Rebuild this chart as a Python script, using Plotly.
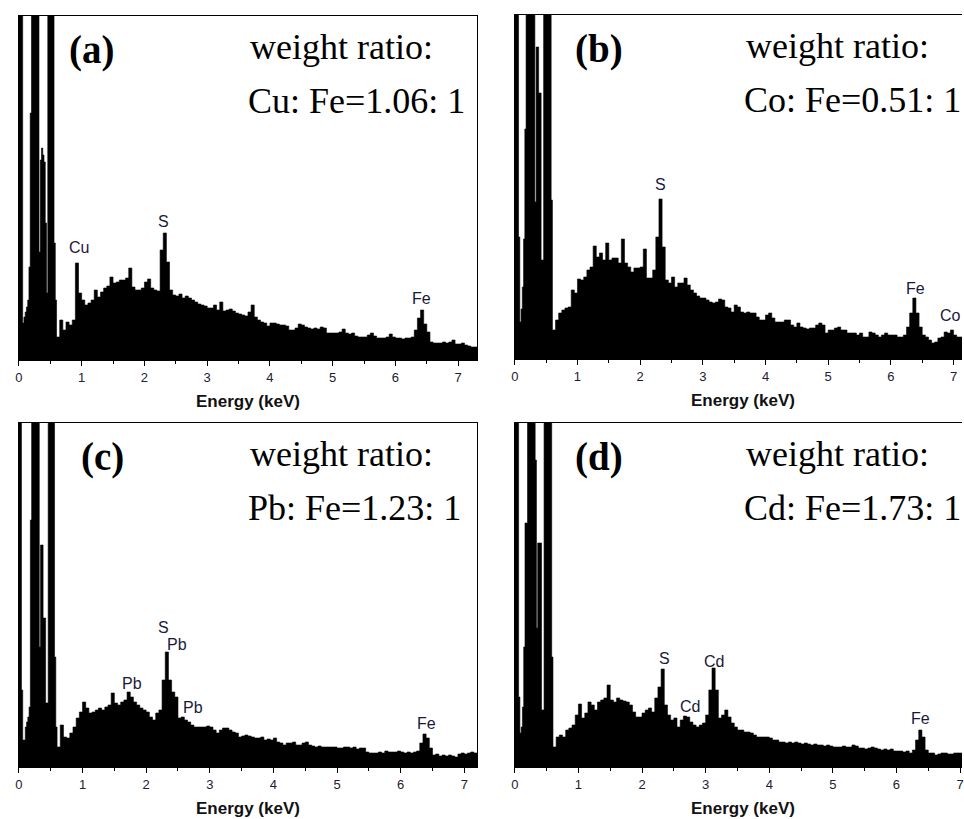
import numpy as np
import plotly.graph_objects as go

# ---------------- data (counts, arbitrary units) ----------------
LOW_START, LOW_STEP = 0.0, 0.02     # fine channels 0.00-0.60 keV
HIGH_START, HIGH_STEP = 0.60, 0.05  # channels from 0.60 keV on

A_LOW = [500, 500, 500, 37, 43, 48, 53, 60, 93, 247,
         500, 500, 500, 500, 500, 500, 108, 200, 212, 205,
         198, 137, 67, 500, 500, 500, 500, 500, 117, 60]
A_HIGH = [23, 40, 30, 38, 35, 40, 97, 67, 60, 55,
          57, 60, 70, 63, 68, 72, 74, 83, 77, 78,
          80, 80, 82, 92, 73, 70, 70, 72, 78, 81,
          72, 70, 69, 110, 127, 98, 70, 65, 64, 66,
          62, 64, 62, 60, 58, 56, 55, 54, 52, 52,
          55, 50, 58, 49, 50, 51, 49, 47, 46, 45,
          44, 48, 55, 43, 40, 38, 37, 34, 37, 37,
          36, 35, 35, 34, 30, 30, 32, 36, 35, 33,
          32, 31, 32, 31, 33, 32, 27, 27, 27, 27,
          28, 31, 27, 26, 27, 24, 23, 23, 23, 25,
          27, 24, 22, 22, 22, 23, 26, 23, 22, 22,
          21, 22, 22, 23, 30, 42, 50, 36, 28, 18,
          17, 17, 17, 18, 17, 18, 20, 16, 16, 17,
          15, 14, 13, 13]

B_LOW = [500, 500, 500, 122, 37, 50, 72, 120, 230, 500,
         500, 500, 500, 500, 500, 500, 157, 312, 312, 266,
         266, 99, 99, 500, 500, 500, 500, 500, 500, 159]
B_HIGH = [29, 39, 46, 49, 51, 52, 69, 66, 80, 79,
          82, 89, 92, 113, 102, 106, 99, 116, 99, 101,
          101, 96, 120, 96, 92, 87, 91, 91, 92, 110,
          81, 81, 89, 122, 160, 112, 79, 76, 82, 72,
          76, 76, 81, 74, 69, 66, 63, 61, 61, 59,
          57, 56, 57, 60, 59, 52, 51, 47, 54, 52,
          47, 46, 47, 46, 46, 42, 39, 39, 44, 46,
          41, 37, 37, 37, 39, 39, 34, 32, 36, 32,
          31, 30, 31, 31, 34, 36, 34, 26, 29, 29,
          31, 32, 29, 29, 26, 26, 26, 24, 26, 22,
          22, 27, 26, 24, 22, 24, 26, 24, 24, 24,
          22, 22, 24, 32, 46, 61, 46, 32, 24, 22,
          19, 16, 17, 21, 22, 27, 26, 29, 24, 22,
          22]

C_LOW = [500, 500, 77, 27, 27, 40, 45, 50, 60, 247,
         500, 500, 500, 500, 500, 500, 120, 222, 222, 149,
         149, 64, 64, 500, 500, 500, 500, 500, 110, 40]
C_HIGH = [20, 42, 30, 29, 34, 40, 49, 55, 65, 59,
          54, 55, 57, 59, 57, 60, 62, 74, 64, 62,
          65, 67, 75, 70, 65, 62, 59, 57, 55, 50,
          47, 54, 57, 87, 115, 87, 75, 70, 49, 50,
          47, 45, 42, 40, 40, 40, 40, 41, 40, 37,
          34, 37, 39, 39, 37, 35, 34, 30, 31, 32,
          31, 30, 29, 29, 30, 27, 28, 27, 29, 25,
          24, 22, 24, 24, 25, 22, 22, 24, 25, 22,
          21, 20, 21, 20, 20, 20, 20, 20, 19, 19,
          20, 20, 19, 20, 18, 19, 19, 15, 14, 14,
          14, 15, 14, 16, 15, 15, 15, 16, 15, 14,
          15, 14, 15, 16, 24, 33, 29, 19, 12, 13,
          11, 12, 11, 12, 11, 10, 13, 14, 13, 14,
          15, 14]

D_LOW = [500, 500, 500, 70, 34, 40, 60, 120, 244, 244,
         500, 500, 500, 500, 500, 500, 307, 139, 224, 224,
         224, 57, 57, 500, 500, 500, 500, 500, 500, 110]
D_HIGH = [20, 30, 32, 30, 37, 39, 42, 52, 63, 49,
          54, 65, 62, 57, 65, 67, 69, 82, 67, 65,
          69, 67, 66, 65, 62, 55, 50, 50, 54, 57,
          59, 55, 69, 80, 98, 62, 52, 47, 49, 40,
          47, 51, 50, 45, 42, 40, 42, 44, 52, 77,
          99, 77, 49, 52, 57, 50, 44, 40, 37, 37,
          35, 35, 34, 32, 30, 30, 30, 30, 29, 27,
          27, 25, 25, 24, 25, 24, 25, 24, 23, 24,
          23, 22, 23, 22, 22, 21, 22, 21, 20, 20,
          20, 21, 20, 20, 22, 21, 19, 19, 18, 19,
          20, 19, 18, 17, 18, 17, 18, 16, 16, 16,
          15, 16, 14, 17, 27, 37, 30, 17, 14, 14,
          12, 13, 14, 14, 13, 13, 14, 14, 14]

TICKS = [0, 1, 2, 3, 4, 5, 6, 7]
PANEL_TAGS = ["(a)", "(b)", "(c)", "(d)"]
RATIO_TEXT = ["Cu: Fe=1.06: 1", "Co: Fe=0.51: 1", "Pb: Fe=1.23: 1", "Cd: Fe=1.73: 1"]
PEAK_LABELS = [
    [("Cu", 75, 247), ("S", 161, 222), ("Fe", 420, 298)],
    [("S", 661, 185), ("Fe", 917, 288), ("Co", 952, 315)],
    [("S", 161, 627), ("Pb", 174, 644), ("Pb", 129, 683), ("Pb", 190, 707), ("Fe", 425, 723)],
    [("S", 665, 658), ("Cd", 714, 661), ("Cd", 690, 706), ("Fe", 922, 718)],
]

W, H = 964, 819
# panel boxes in pixels: left, right, top, bottom, x-range max
PANELS = [
    (15, 476, 16, 360, 7.30),
    (514, 964, 15, 359, 7.135),
    (15, 476, 423, 767, 7.20),
    (514, 964, 423, 767, 7.03),
]
YMAX = 344
SERIES = [(A_LOW, A_HIGH), (B_LOW, B_HIGH), (C_LOW, C_HIGH), (D_LOW, D_HIGH)]

SANS = "Arial, Liberation Sans, sans-serif"
SERIF = "Times New Roman, Liberation Serif, serif"


def px(x):
    return x / W


def py(y):
    return 1 - y / H


fig = go.Figure()
annotations = []

for i, ((low, high), (l, r, t, b, xmax)) in enumerate(zip(SERIES, PANELS)):
    n = i + 1
    xa = "x" if n == 1 else f"x{n}"
    ya = "y" if n == 1 else f"y{n}"
    low_edges = LOW_START + np.arange(len(low)) * LOW_STEP
    high_edges = HIGH_START + np.arange(len(high)) * HIGH_STEP
    xs = np.concatenate([low_edges, high_edges, [high_edges[-1] + HIGH_STEP]])
    ys = np.concatenate([low, high, [high[-1]]])
    fig.add_trace(go.Scatter(
        x=xs, y=ys, xaxis=xa, yaxis=ya, mode="lines",
        line=dict(shape="hv", color="black", width=0.6),
        fill="tozeroy", fillcolor="black", hoverinfo="skip", showlegend=False))

    full_box = (r < W)
    xkey = "xaxis" if n == 1 else f"xaxis{n}"
    ykey = "yaxis" if n == 1 else f"yaxis{n}"
    fig.update_layout(**{
        xkey: dict(domain=[px(l), px(r)], anchor=ya, range=[0, xmax],
                   tickvals=TICKS, ticks="outside", ticklen=5, tickwidth=1,
                   tickcolor="black", showline=True, linecolor="black", linewidth=1,
                   mirror=True, showgrid=False, zeroline=False,
                   ticklabeloverflow="allow",
                   tickfont=dict(family=SANS, size=13, color="#1f2030"),
                   minor=dict(dtick=0.5, ticks="outside", ticklen=3,
                              tickcolor="black", showgrid=False),
                   fixedrange=True),
        ykey: dict(domain=[py(b), py(t)], anchor=xa, range=[0, YMAX],
                   showticklabels=False, ticks="", showline=True, linecolor="black",
                   linewidth=1, mirror=full_box, showgrid=False, zeroline=False,
                   fixedrange=True),
    })

    # axis title
    cx = (l + r) / 2 if full_box else 744
    annotations.append(dict(text="<b>Energy (keV)</b>", x=px(cx), y=py(b + 41),
                            xref="paper", yref="paper", showarrow=False,
                            xanchor="center", yanchor="middle",
                            font=dict(family=SANS, size=17, color="#111")))
    # panel tag and ratio text
    base_x = 63 if l < 100 else 573
    if i == 2:
        base_x = 75
    txt_x = 244 if l < 100 else 743
    annotations.append(dict(text=f"<b>{PANEL_TAGS[i]}</b>", x=px(base_x), y=py(t + 34),
                            xref="paper", yref="paper", showarrow=False,
                            xanchor="left", yanchor="middle",
                            font=dict(family=SERIF, size=39, color="black")))
    annotations.append(dict(text="weight ratio:", x=px(txt_x + 2), y=py(t + 31),
                            xref="paper", yref="paper", showarrow=False,
                            xanchor="left", yanchor="middle",
                            font=dict(family=SERIF, size=36, color="black")))
    annotations.append(dict(text=RATIO_TEXT[i], x=px(txt_x), y=py(t + 85),
                            xref="paper", yref="paper", showarrow=False,
                            xanchor="left", yanchor="middle",
                            font=dict(family=SERIF, size=36, color="black")))
    for lab, lx, ly in PEAK_LABELS[i]:
        annotations.append(dict(text=lab, x=px(lx), y=py(ly),
                                xref="paper", yref="paper", showarrow=False,
                                xanchor="center", yanchor="middle",
                                font=dict(family=SANS, size=16, color="#1a1a38")))

fig.update_layout(width=W, height=H, margin=dict(l=0, r=0, t=0, b=0),
                  paper_bgcolor="white", plot_bgcolor="white",
                  showlegend=False, annotations=annotations)

fig.write_html("out.html",
               config={"displayModeBar": False},
               post_script="document.body.style.margin='0px';"
                           "document.body.style.overflow='hidden';")
